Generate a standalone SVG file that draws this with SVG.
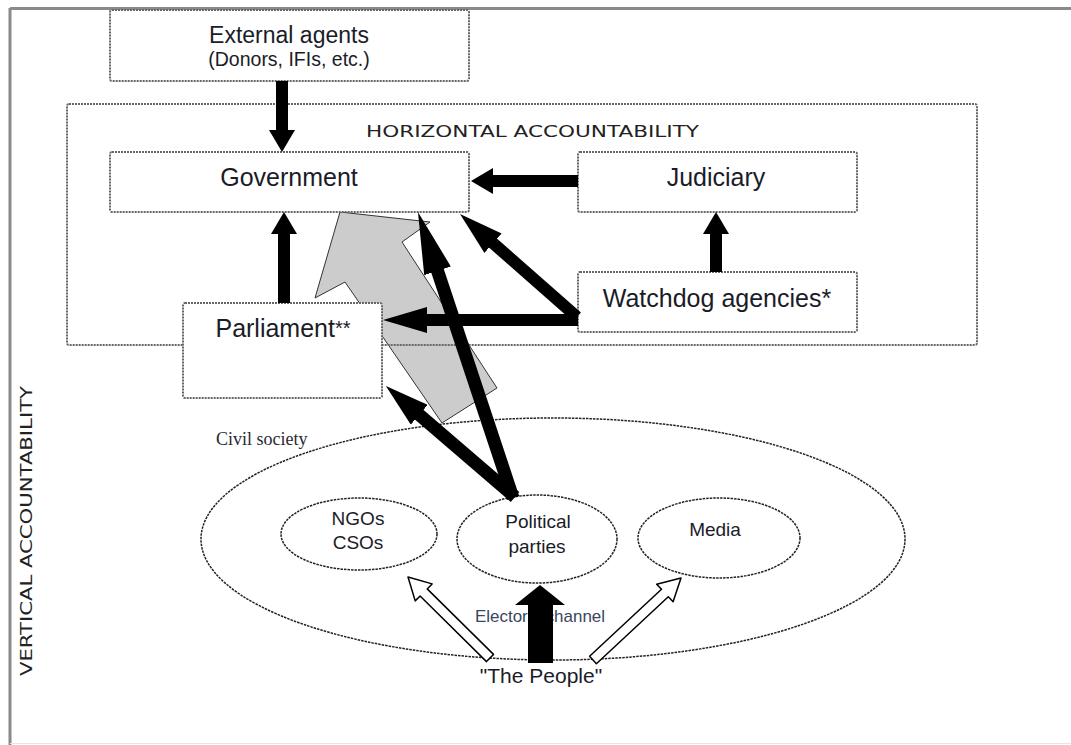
<svg xmlns="http://www.w3.org/2000/svg" width="1071" height="745" viewBox="0 0 1071 745">
  <style>
    .box { fill: #ffffff; stroke: #666666; stroke-width: 2; stroke-dasharray: 2 1; }
    .frame { fill: none; stroke: #666666; stroke-width: 2; stroke-dasharray: 2 1; }
    .ell { fill: #ffffff; stroke: #222222; stroke-width: 1.5; stroke-dasharray: 2.5 1; }
    .ell0 { fill: none; stroke: #222222; stroke-width: 1.5; stroke-dasharray: 2.5 1; }
    .t { font-family: "Liberation Sans", Arial, sans-serif; fill: #1a1c28; text-anchor: middle; }
    .cap { font-family: "DejaVu Sans", "Open Sans", sans-serif; fill: #222222; }
    .arr { stroke: #000000; stroke-width: 12; fill: none; }
    .arr2 { stroke: #000000; stroke-width: 13; fill: none; }
    .hollow { fill: #ffffff; stroke: #000000; stroke-width: 1.5; stroke-linejoin: round; }
  </style>
  <defs>
    <marker id="hs" markerUnits="userSpaceOnUse" markerWidth="22" markerHeight="26" viewBox="0 0 22 26" refX="1" refY="13" orient="auto">
      <path d="M0,0 L22,13 L0,26 Z" fill="#000"/>
    </marker>
    <marker id="hm" markerUnits="userSpaceOnUse" markerWidth="44" markerHeight="26" viewBox="0 0 44 26" refX="1" refY="13" orient="auto">
      <path d="M0,0 L44,13 L0,26 Z" fill="#000"/>
    </marker>
    <marker id="hl" markerUnits="userSpaceOnUse" markerWidth="62" markerHeight="28" viewBox="0 0 62 28" refX="1" refY="14" orient="auto">
      <path d="M0,0 L62,14 L0,28 Z" fill="#000"/>
    </marker>
  </defs>

  <!-- outer frame -->
  <g id="outer-frame">
    <line x1="10" y1="8.5" x2="1071" y2="8.5" stroke="#8a8a8a" stroke-width="3"/>
    <line x1="10" y1="8" x2="10" y2="745" stroke="#8a8a8a" stroke-width="3"/>
    <line x1="10" y1="743.5" x2="1071" y2="743.5" stroke="#e6e6e6" stroke-width="1"/>
  </g>

  <g id="vertical-accountability">
    <text class="cap" font-size="16" transform="translate(32,676) rotate(-90)" textLength="290" lengthAdjust="spacingAndGlyphs">VERTICAL ACCOUNTABILITY</text>
  </g>

  <!-- gray arrow (behind boxes) -->
  <g id="civil-pressure-arrow">
    <polygon points="340,212 430,222 402,242 497,388 442,423 345,282 315,298" fill="#cccccc" stroke="#333333" stroke-width="1"/>
  </g>

  <g id="horizontal-accountability">
    <rect class="frame" x="67" y="104" width="910" height="241" rx="2"/>
    <text class="cap" x="366" y="137" font-size="16" textLength="333" lengthAdjust="spacingAndGlyphs">HORIZONTAL ACCOUNTABILITY</text>
  </g>

  <g id="civil-society">
    <ellipse class="ell0" cx="553" cy="539" rx="352" ry="121"/>
    <text x="216" y="445" font-family="'Liberation Serif', 'Times New Roman', serif" font-size="18" fill="#2a2a35">Civil society</text>
  </g>

  <g id="external-agents">
    <rect class="box" x="110" y="10" width="359" height="71" rx="2"/>
    <text class="t" x="289" y="43" font-size="23">External agents</text>
    <text class="t" x="289" y="66" font-size="19.5">(Donors, IFIs, etc.)</text>
  </g>

  <g id="government">
    <rect class="box" x="110" y="152" width="359" height="60" rx="2"/>
    <text class="t" x="289" y="186" font-size="25">Government</text>
  </g>

  <g id="judiciary">
    <rect class="box" x="578" y="152" width="279" height="60" rx="2"/>
    <text class="t" x="716" y="186" font-size="25">Judiciary</text>
  </g>

  <g id="watchdog-agencies">
    <rect class="box" x="578" y="272" width="279" height="60" rx="2"/>
    <text class="t" x="717" y="307" font-size="25">Watchdog agencies*</text>
  </g>

  <g id="parliament">
    <rect class="box" x="183" y="303" width="199" height="95" rx="2"/>
    <text class="t" x="283" y="337" font-size="25">Parliament<tspan font-size="20" dy="-2">**</tspan></text>
  </g>

  <g id="ngos-csos">
    <ellipse class="ell" cx="359" cy="534" rx="78" ry="36"/>
    <text class="t" x="358" y="525" font-size="19">NGOs</text>
    <text class="t" x="358" y="549" font-size="19">CSOs</text>
  </g>

  <g id="political-parties">
    <ellipse class="ell" cx="537" cy="539" rx="80" ry="44"/>
    <text class="t" x="538" y="528" font-size="19">Political</text>
    <text class="t" x="537" y="553" font-size="19">parties</text>
  </g>

  <g id="media">
    <ellipse class="ell" cx="719" cy="538" rx="81" ry="40"/>
    <text class="t" x="715" y="536" font-size="19">Media</text>
  </g>

  <g id="the-people">
    <text class="t" x="541" y="683" font-size="21">"The People"</text>
  </g>

  <g id="connectors">
    <line class="arr" x1="282" y1="81" x2="282" y2="131" marker-end="url(#hs)"/>
    <line class="arr" x1="578" y1="181" x2="492" y2="181" marker-end="url(#hs)"/>
    <line class="arr" x1="284" y1="303" x2="284" y2="233" marker-end="url(#hs)"/>
    <line class="arr" x1="716" y1="272" x2="716" y2="233" marker-end="url(#hs)"/>
    <line class="arr" x1="578" y1="320" x2="426" y2="320" marker-end="url(#hm)"/>
    <line class="arr" x1="577" y1="317" x2="492.3" y2="242.5" marker-end="url(#hm)"/>
    <line class="arr2" x1="513" y1="498" x2="437.2" y2="269.9" marker-end="url(#hl)"/>
    <line class="arr2" x1="515" y1="497" x2="418.5" y2="414.1" marker-end="url(#hm)"/>
    <!-- electoral channel -->
    <text x="475" y="622" font-family="'Liberation Sans', Arial, sans-serif" font-size="17" fill="#3a4560" textLength="130" lengthAdjust="spacingAndGlyphs">Electoral channel</text>
    <polygon points="528,663 553,663 553,605 565,605 540,585 515,605 528,605" fill="#000000"/>
    <!-- hollow arrows -->
    <polygon class="hollow" points="493.5,654.4 427.2,588.9 432.1,583.9 408,577 415.2,600.9 420.1,596 486.5,661.6"/>
    <polygon class="hollow" points="596.4,663.7 668.3,596.7 673.1,601.8 681,578 656.7,584.2 661.5,589.3 589.6,656.3"/>
  </g>
</svg>
